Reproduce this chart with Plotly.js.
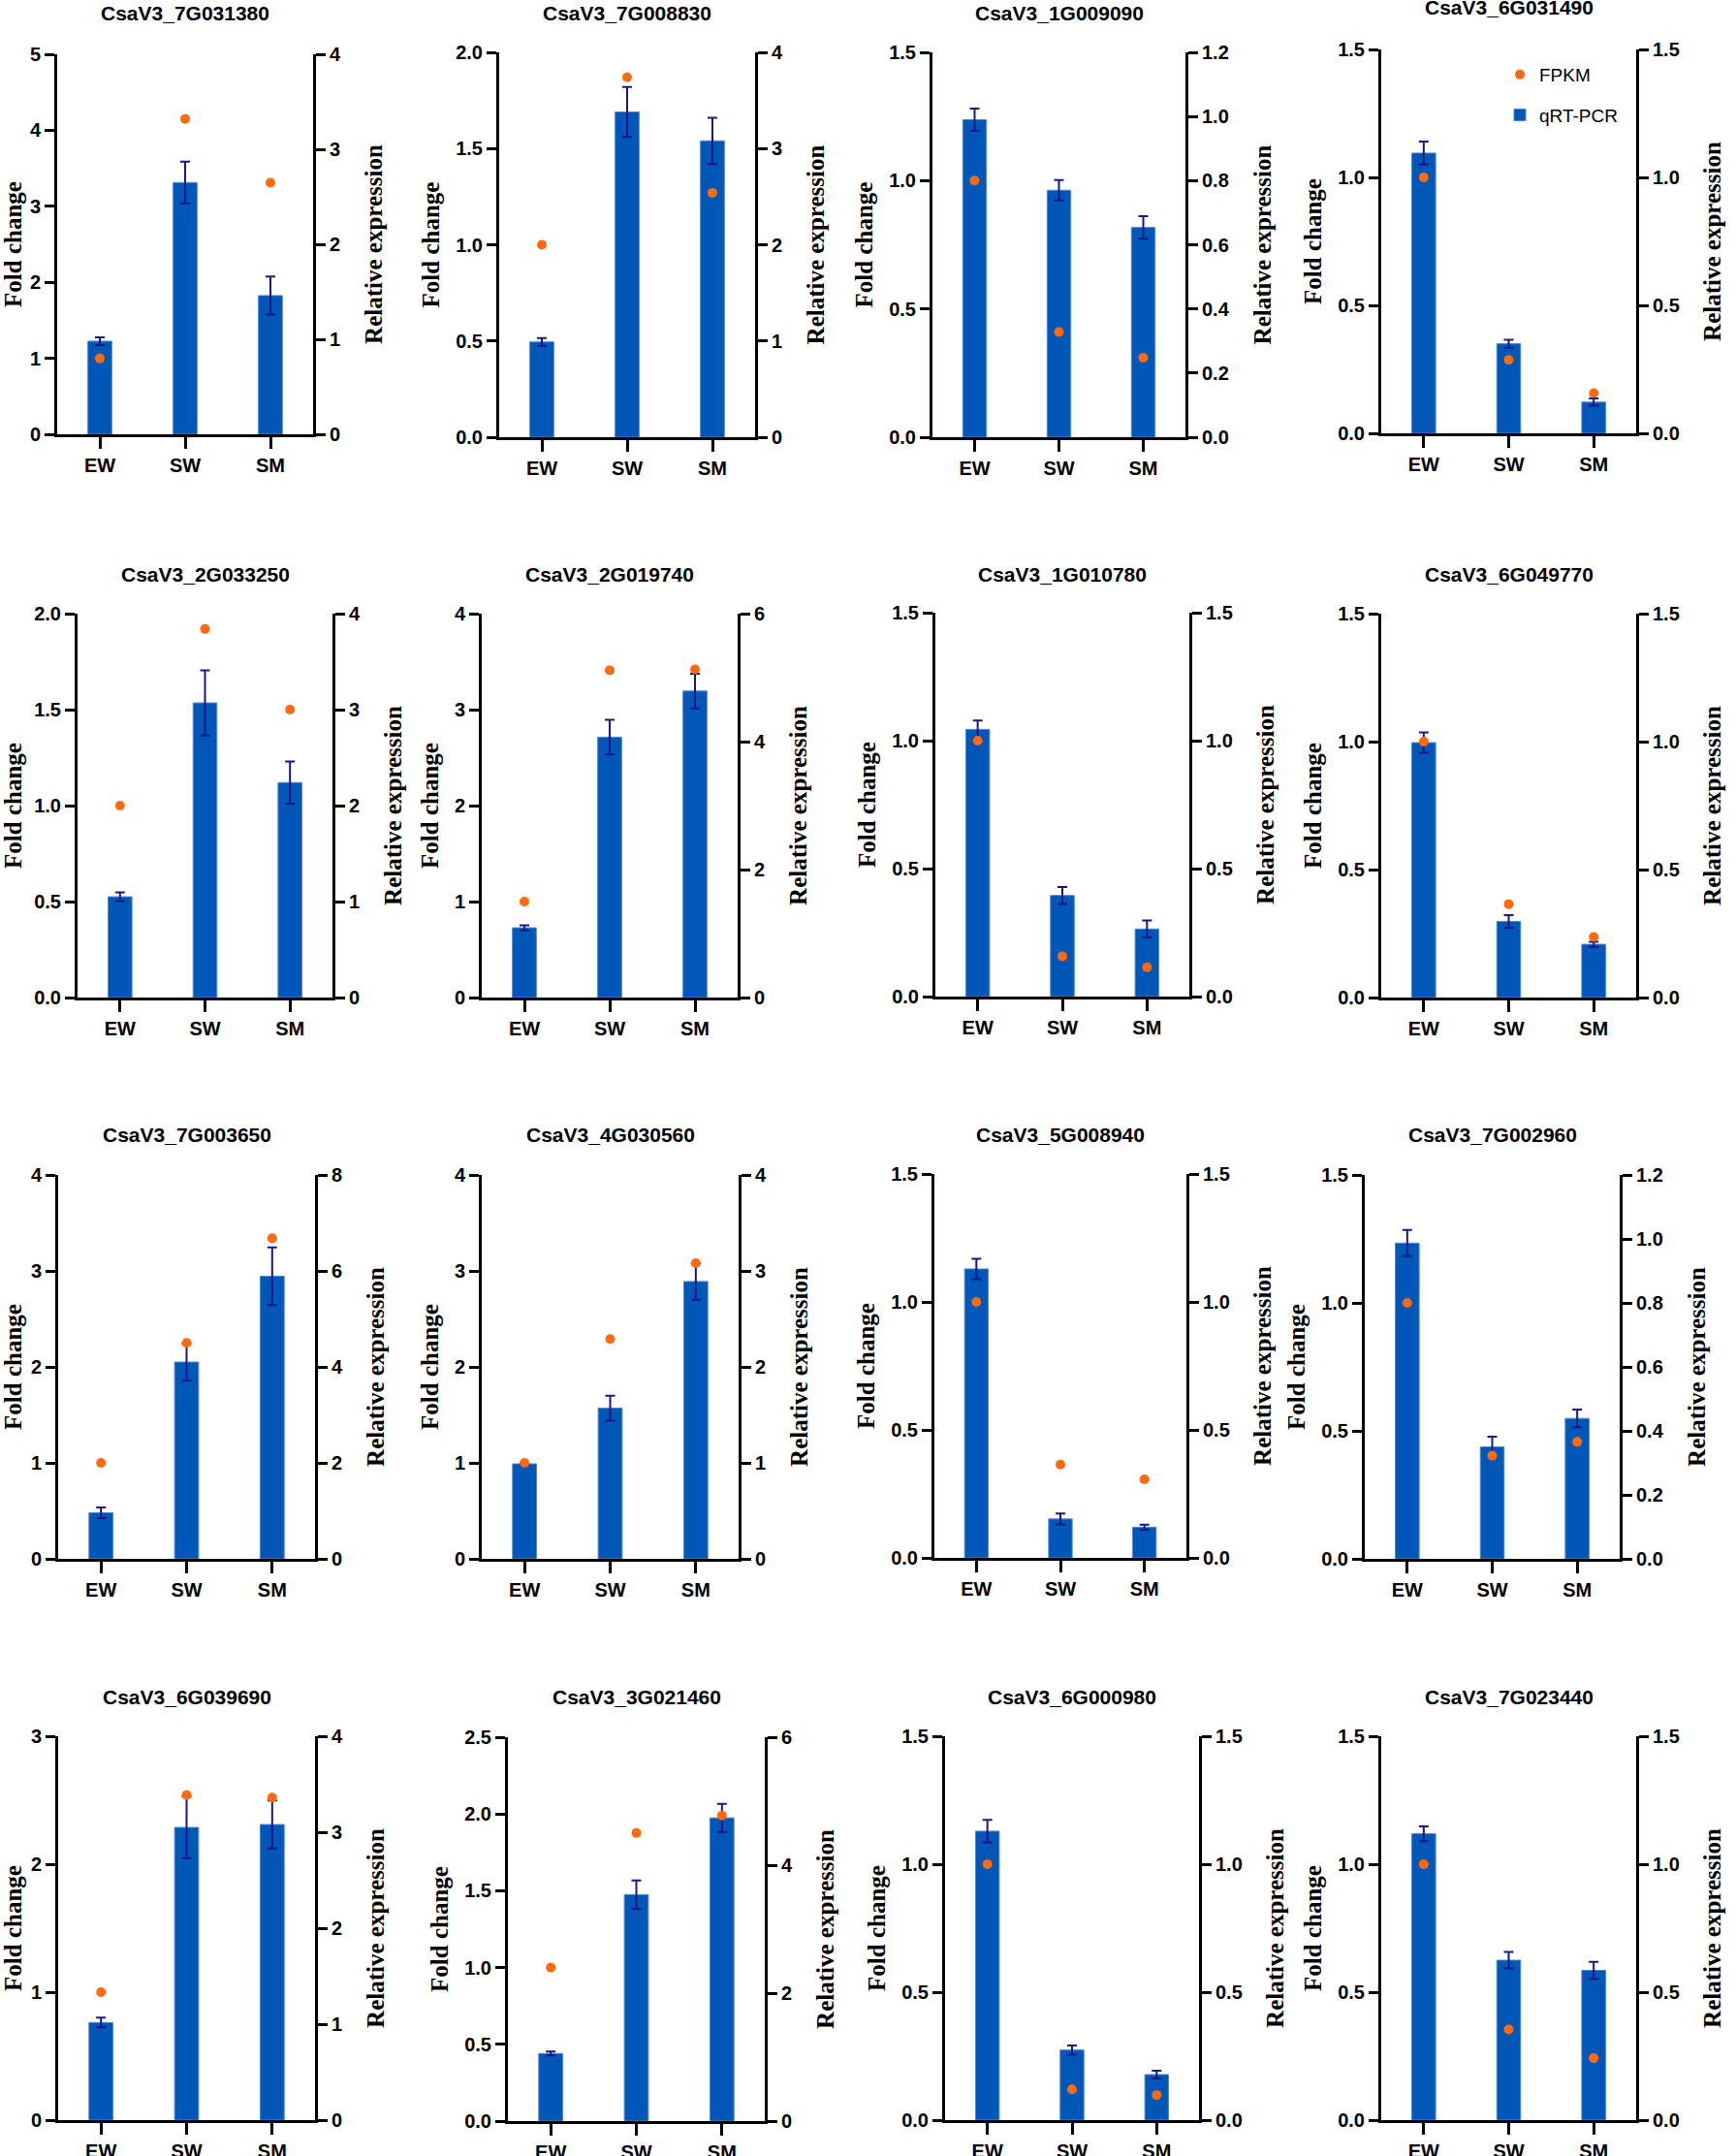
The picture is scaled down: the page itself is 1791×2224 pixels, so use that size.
<!DOCTYPE html>
<html>
<head>
<meta charset="utf-8">
<script src="https://cdn.plot.ly/plotly-3.0.1.min.js"></script>
<style>
html,body{margin:0;padding:0;background:#fff;}
#chart{width:1791px;height:2224px;}
</style>
</head>
<body>
<div id="chart"></div>
<script>
// ---------------- DATA ----------------
const categories = ['EW', 'SW', 'SM'];
const genes = [
  'CsaV3_7G031380', 'CsaV3_7G008830', 'CsaV3_1G009090', 'CsaV3_6G031490',
  'CsaV3_2G033250', 'CsaV3_2G019740', 'CsaV3_1G010780', 'CsaV3_6G049770',
  'CsaV3_7G003650', 'CsaV3_4G030560', 'CsaV3_5G008940', 'CsaV3_7G002960',
  'CsaV3_6G039690', 'CsaV3_3G021460', 'CsaV3_6G000980', 'CsaV3_7G023440'
];
// qRT-PCR relative expression (bars, right axis)
const qpcr = [
  [0.98, 2.65, 1.46], [0.99, 3.38, 3.08], [0.99, 0.77, 0.654], [1.095, 0.35, 0.122],
  [1.05, 3.07, 2.24], [1.09, 4.07, 4.79], [1.044, 0.395, 0.264], [0.996, 0.297, 0.208],
  [0.96, 4.10, 5.89], [0.99, 1.57, 2.89], [1.129, 0.152, 0.12], [0.987, 0.35, 0.439],
  [1.017, 3.05, 3.08], [1.056, 3.54, 4.74], [1.129, 0.274, 0.178], [1.119, 0.625, 0.585]
];
const qpcrErr = [
  [0.04, 0.22, 0.20], [0.04, 0.26, 0.24], [0.035, 0.032, 0.035], [0.045, 0.016, 0.014],
  [0.045, 0.34, 0.22], [0.04, 0.27, 0.27], [0.035, 0.033, 0.033], [0.04, 0.025, 0.01],
  [0.11, 0.39, 0.60], [0.01, 0.13, 0.19], [0.04, 0.021, 0.01], [0.041, 0.032, 0.028],
  [0.05, 0.32, 0.25], [0.03, 0.22, 0.22], [0.044, 0.018, 0.015], [0.029, 0.032, 0.033]
];
// FPKM fold change (dots, left axis)
const fpkm = [
  [1.0, 4.15, 3.31], [1.0, 1.87, 1.27], [1.0, 0.41, 0.31], [1.0, 0.287, 0.157],
  [1.0, 1.92, 1.50], [1.0, 3.41, 3.42], [1.0, 0.157, 0.115], [1.0, 0.365, 0.237],
  [1.0, 2.25, 3.34], [1.0, 2.29, 3.08], [1.0, 0.365, 0.307], [1.0, 0.403, 0.457],
  [1.0, 2.54, 2.52], [1.0, 1.876, 1.99], [1.0, 0.12, 0.098], [1.0, 0.354, 0.242]
];
// axis scales
const leftMax   = [5, 2, 1.5, 1.5, 2, 4, 1.5, 1.5, 4, 4, 1.5, 1.5, 3, 2.5, 1.5, 1.5];
const leftStep  = [1, 0.5, 0.5, 0.5, 0.5, 1, 0.5, 0.5, 1, 1, 0.5, 0.5, 1, 0.5, 0.5, 0.5];
const rightMax  = [4, 4, 1.2, 1.5, 4, 6, 1.5, 1.5, 8, 4, 1.5, 1.2, 4, 6, 1.5, 1.5];
const rightStep = [1, 1, 0.2, 0.5, 1, 2, 0.5, 0.5, 2, 1, 0.5, 0.2, 1, 2, 0.5, 0.5];
const leftTitle = 'Fold change';
const rightTitle = 'Relative expression';
const seriesNames = ['FPKM', 'qRT-PCR'];

// ---------------- LAYOUT (pixel boxes of each panel) ----------------
const W = 1791, H = 2224;
const boxL = [59, 515, 962, 1425, 80, 497, 965, 1425, 60, 497, 964, 1408, 60, 524, 975, 1425];
const boxR = [323, 779, 1223, 1688, 343, 761, 1227, 1688, 325, 762, 1224, 1671, 325, 789, 1237, 1688];
const boxT = [56, 54, 54, 51, 633, 633, 632, 633, 1212, 1212, 1211, 1212, 1791, 1792, 1791, 1791];
const boxB = [448, 451, 451, 447, 1029, 1029, 1028, 1029, 1608, 1608, 1607, 1608, 2187, 2188, 2187, 2187];
const titleY = [13, 13, 13, 8, 592, 592, 592, 592, 1170, 1170, 1170, 1170, 1750, 1750, 1750, 1750];

const BAR = '#0057B7', BAR_EDGE = '#4D86D2', ERR = '#17178A', DOT = '#FF6A10';
const tickFont = {family: 'Liberation Sans, Arial, sans-serif', size: 20, color: '#000', weight: 'bold'};
const axTitleFont = {family: 'Liberation Serif, Times New Roman, serif', size: 25, color: '#000', weight: 'bold'};

const data = [];
const layout = {
  width: W, height: H,
  margin: {l: 0, r: 0, t: 0, b: 0},
  paper_bgcolor: '#fff', plot_bgcolor: 'rgba(0,0,0,0)',
  showlegend: true,
  legend: {
    x: 1548 / W, y: 1 - 58 / H, xanchor: 'left', yanchor: 'top',
    font: {family: 'Liberation Sans, Arial, sans-serif', size: 19, color: '#000'},
    bgcolor: 'rgba(0,0,0,0)', traceorder: 'grouped', tracegroupgap: 14
  },
  bargap: 0,
  annotations: []
};

function ax(id) { return id === 1 ? '' : String(id); }
function fmt(step) { return step < 1 ? '.1f' : 'd'; }

for (let k = 0; k < genes.length; k++) {
  const xn = k + 1, yb = 2 * k + 1, yo = 2 * k + 2;
  const xd = [boxL[k] / W, boxR[k] / W];
  const yd = [1 - boxB[k] / H, 1 - boxT[k] / H];
  const showLeg = (k === 3);

  layout['xaxis' + ax(xn)] = {
    domain: xd, anchor: 'y' + ax(yb), type: 'category',
    range: [-0.5, 2.5], showgrid: false, zeroline: false,
    showline: true, linecolor: '#000', linewidth: 3,
    ticks: 'outside', ticklen: 12, tickwidth: 3, tickcolor: '#000',
    tickfont: tickFont, fixedrange: true
  };
  layout['yaxis' + ax(yb)] = {
    domain: yd, anchor: 'x' + ax(xn), side: 'right',
    range: [0, rightMax[k]], dtick: rightStep[k], tick0: 0, tickformat: fmt(rightStep[k]),
    showgrid: false, zeroline: false,
    showline: true, linecolor: '#000', linewidth: 3,
    ticks: 'outside', ticklen: 10, tickwidth: 3, tickcolor: '#000',
    tickfont: tickFont,
    title: {text: rightTitle, font: axTitleFont, standoff: 26}
  };
  layout['yaxis' + ax(yo)] = {
    overlaying: 'y' + ax(yb), anchor: 'x' + ax(xn), side: 'left',
    range: [0, leftMax[k]], dtick: leftStep[k], tick0: 0, tickformat: fmt(leftStep[k]),
    showgrid: false, zeroline: false,
    showline: true, linecolor: '#000', linewidth: 3,
    ticks: 'outside', ticklen: 10, tickwidth: 3, tickcolor: '#000',
    tickfont: tickFont,
    title: {text: leftTitle, font: axTitleFont, standoff: 10}
  };

  data.push({
    type: 'bar', x: categories, y: qpcr[k],
    xaxis: 'x' + ax(xn), yaxis: 'y' + ax(yb),
    width: 0.28, marker: {color: BAR, line: {width: 1, color: BAR_EDGE}},
    error_y: {type: 'data', array: qpcrErr[k], visible: true, color: ERR, thickness: 2, width: 5},
    name: seriesNames[1], legendgroup: 'q', legendrank: 2, showlegend: showLeg,
    hoverinfo: 'skip'
  });
  data.push({
    type: 'scatter', mode: 'markers', x: categories, y: fpkm[k],
    xaxis: 'x' + ax(xn), yaxis: 'y' + ax(yo),
    marker: {color: DOT, size: 10, line: {width: 0}},
    name: seriesNames[0], legendgroup: 'f', legendrank: 1, showlegend: showLeg,
    hoverinfo: 'skip', cliponaxis: false
  });

  layout.annotations.push({
    text: genes[k], xref: 'paper', yref: 'paper',
    x: (boxL[k] + boxR[k]) / 2 / W, y: 1 - titleY[k] / H,
    xanchor: 'center', yanchor: 'middle', showarrow: false,
    font: {family: 'Liberation Sans, Arial, sans-serif', size: 21, color: '#000', weight: 'bold'}
  });
}

Plotly.newPlot('chart', data, layout, {staticPlot: true, displayModeBar: false});
</script>
</body>
</html>
